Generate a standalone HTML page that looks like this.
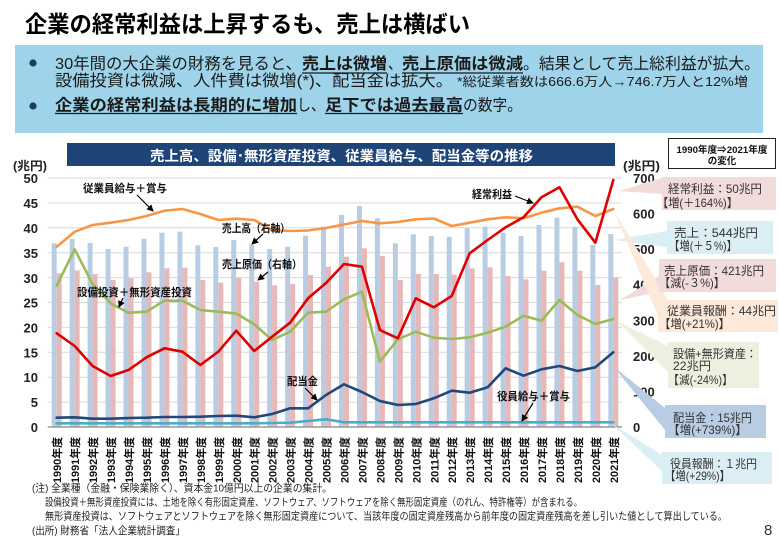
<!DOCTYPE html>
<html><head><meta charset="utf-8">
<style>
html,body{margin:0;padding:0;background:#fff;}
svg{display:block;}
text{font-family:"Liberation Sans","Noto Sans CJK JP",sans-serif;}
</style></head><body>
<svg width="780" height="540" viewBox="0 0 780 540" xmlns="http://www.w3.org/2000/svg">
<defs>
<marker id="ah" markerWidth="7" markerHeight="7" refX="6" refY="3.5" orient="auto" markerUnits="userSpaceOnUse">
<path d="M0,0 L7,3.5 L0,7 z" fill="#000"/>
</marker>
</defs>
<rect width="780" height="540" fill="#fff"/>

<!-- Title -->
<text x="25" y="32" font-size="23" font-weight="bold" fill="#000" textLength="445" lengthAdjust="spacingAndGlyphs">企業の経常利益は上昇するも、売上は横ばい</text>

<!-- Summary box -->
<rect x="15" y="45" width="748" height="88" fill="#9ed3ea"/>
<circle cx="33" cy="63" r="3.6" fill="#1f3864"/>
<circle cx="33" cy="106" r="3.6" fill="#1f3864"/>
<g font-size="16" fill="#1a1a1a">
<text x="55" y="69" textLength="247" lengthAdjust="spacingAndGlyphs">30年間の大企業の財務を見ると、</text>
<text x="302" y="69" font-weight="bold" textLength="85" lengthAdjust="spacingAndGlyphs">売上は微増</text>
<text x="388" y="69" textLength="14" lengthAdjust="spacingAndGlyphs">、</text>
<text x="402" y="69" font-weight="bold" textLength="121" lengthAdjust="spacingAndGlyphs">売上原価は微減</text>
<text x="523" y="69" textLength="237" lengthAdjust="spacingAndGlyphs">。結果として売上総利益が拡大。</text>
<text x="55" y="86" textLength="398" lengthAdjust="spacingAndGlyphs">設備投資は微減、人件費は微増(*)、配当金は拡大。</text>
<text x="457" y="86" font-size="12.5" textLength="291" lengthAdjust="spacingAndGlyphs">*総従業者数は666.6万人→746.7万人と12%増</text>
<text x="55" y="110.5" font-weight="bold" textLength="242" lengthAdjust="spacingAndGlyphs">企業の経常利益は長期的に増加</text>
<text x="297" y="110.5" textLength="28" lengthAdjust="spacingAndGlyphs">し、</text>
<text x="325" y="110.5" font-weight="bold" textLength="138" lengthAdjust="spacingAndGlyphs">足下では過去最高</text>
<text x="463" y="110.5" textLength="59" lengthAdjust="spacingAndGlyphs">の数字。</text>
</g>
<g stroke="#1a1a1a" stroke-width="1.3">
<line x1="302" y1="73" x2="387" y2="73"/>
<line x1="402" y1="73" x2="523" y2="73"/>
<line x1="55" y1="113.5" x2="297" y2="113.5"/>
<line x1="325" y1="113.5" x2="463" y2="113.5"/>
</g>

<!-- Chart title bar -->
<rect x="67" y="143" width="548" height="23" fill="#1f4478"/>
<text x="150" y="161" font-size="14" font-weight="bold" fill="#fff" textLength="383" lengthAdjust="spacingAndGlyphs">売上高、設備･無形資産投資、従業員給与、配当金等の推移</text>

<!-- Units -->
<text x="13" y="170" font-size="12" font-weight="bold" fill="#222" textLength="34" lengthAdjust="spacingAndGlyphs">(兆円)</text>
<text x="623" y="170" font-size="12" font-weight="bold" fill="#222" textLength="37" lengthAdjust="spacingAndGlyphs">(兆円)</text>

<!-- Gridlines -->
<g stroke="#d9d9d9" stroke-width="1">
<line x1="47.7" y1="178" x2="622" y2="178"/>
<line x1="47.7" y1="202.9" x2="622" y2="202.9"/>
<line x1="47.7" y1="227.8" x2="622" y2="227.8"/>
<line x1="47.7" y1="252.7" x2="622" y2="252.7"/>
<line x1="47.7" y1="277.6" x2="622" y2="277.6"/>
<line x1="47.7" y1="302.5" x2="622" y2="302.5"/>
<line x1="47.7" y1="327.4" x2="622" y2="327.4"/>
<line x1="47.7" y1="352.3" x2="622" y2="352.3"/>
<line x1="47.7" y1="377.2" x2="622" y2="377.2"/>
<line x1="47.7" y1="402.1" x2="622" y2="402.1"/>
</g>

<!-- Left ticks -->
<g font-size="13" font-weight="bold" fill="#222" text-anchor="end">
<text x="38" y="183">50</text>
<text x="38" y="208">45</text>
<text x="38" y="233">40</text>
<text x="38" y="258">35</text>
<text x="38" y="283">30</text>
<text x="38" y="307.5">25</text>
<text x="38" y="332.5">20</text>
<text x="38" y="357.5">15</text>
<text x="38" y="382">10</text>
<text x="38" y="407">5</text>
<text x="38" y="432">0</text>
</g>
<!-- Right ticks -->
<g font-size="13" font-weight="bold" fill="#222">
<text x="633" y="183">700</text>
<text x="633" y="218.6">600</text>
<text x="633" y="254.1">500</text>
<text x="633" y="289.7">400</text>
<text x="633" y="325.3">300</text>
<text x="633" y="360.9">200</text>
<text x="633" y="396.4">100</text>
<text x="633" y="432">0</text>
</g>

<!-- Bars: sales (blue) -->
<g fill="#b8cce4">
<rect x="51.7" y="243.3" width="5" height="183.7"/>
<rect x="69.66" y="239" width="5" height="188"/>
<rect x="87.61" y="243" width="5" height="184"/>
<rect x="105.57" y="249" width="5" height="178"/>
<rect x="123.52" y="246.7" width="5" height="180.3"/>
<rect x="141.48" y="238.7" width="5" height="188.3"/>
<rect x="159.43" y="232.7" width="5" height="194.3"/>
<rect x="177.39" y="231.7" width="5" height="195.3"/>
<rect x="195.34" y="245.3" width="5" height="181.7"/>
<rect x="213.3" y="247" width="5" height="180"/>
<rect x="231.25" y="240" width="5" height="187"/>
<rect x="249.21" y="244.7" width="5" height="182.3"/>
<rect x="267.16" y="249" width="5" height="178"/>
<rect x="285.12" y="246.7" width="5" height="180.3"/>
<rect x="303.07" y="235.7" width="5" height="191.3"/>
<rect x="321.03" y="226.7" width="5" height="200.3"/>
<rect x="338.98" y="215" width="5" height="212"/>
<rect x="356.94" y="206" width="5" height="221"/>
<rect x="374.89" y="218.3" width="5" height="208.7"/>
<rect x="392.85" y="243.3" width="5" height="183.7"/>
<rect x="410.8" y="234.3" width="5" height="192.7"/>
<rect x="428.76" y="236" width="5" height="191"/>
<rect x="446.71" y="236.7" width="5" height="190.3"/>
<rect x="464.67" y="228.3" width="5" height="198.7"/>
<rect x="482.62" y="226.7" width="5" height="200.3"/>
<rect x="500.58" y="232.7" width="5" height="194.3"/>
<rect x="518.53" y="236" width="5" height="191"/>
<rect x="536.49" y="225" width="5" height="202"/>
<rect x="554.44" y="217.7" width="5" height="209.3"/>
<rect x="572.4" y="226.7" width="5" height="200.3"/>
<rect x="590.35" y="245" width="5" height="182"/>
<rect x="608.31" y="234" width="5" height="193"/>
</g>
<!-- Bars: cost of sales (pink) -->
<g fill="#e6b8b7">
<rect x="56.7" y="273.3" width="5" height="153.7"/>
<rect x="74.66" y="270.3" width="5" height="156.7"/>
<rect x="92.61" y="274" width="5" height="153"/>
<rect x="110.57" y="280" width="5" height="147"/>
<rect x="128.52" y="278.3" width="5" height="148.7"/>
<rect x="146.48" y="272.3" width="5" height="154.7"/>
<rect x="164.43" y="268.3" width="5" height="158.7"/>
<rect x="182.39" y="267.7" width="5" height="159.3"/>
<rect x="200.34" y="280" width="5" height="147"/>
<rect x="218.3" y="282.7" width="5" height="144.3"/>
<rect x="236.25" y="277.7" width="5" height="149.3"/>
<rect x="254.21" y="281.7" width="5" height="145.3"/>
<rect x="272.16" y="285.3" width="5" height="141.7"/>
<rect x="290.12" y="284" width="5" height="143"/>
<rect x="308.07" y="275" width="5" height="152"/>
<rect x="326.03" y="266.7" width="5" height="160.3"/>
<rect x="343.98" y="256.7" width="5" height="170.3"/>
<rect x="361.94" y="248.3" width="5" height="178.7"/>
<rect x="379.89" y="256" width="5" height="171"/>
<rect x="397.85" y="280" width="5" height="147"/>
<rect x="415.8" y="274" width="5" height="153"/>
<rect x="433.76" y="274" width="5" height="153"/>
<rect x="451.71" y="274.7" width="5" height="152.3"/>
<rect x="469.67" y="268.3" width="5" height="158.7"/>
<rect x="487.62" y="267.3" width="5" height="159.7"/>
<rect x="505.58" y="276" width="5" height="151"/>
<rect x="523.53" y="279.3" width="5" height="147.7"/>
<rect x="541.49" y="270.7" width="5" height="156.3"/>
<rect x="559.44" y="262.3" width="5" height="164.7"/>
<rect x="577.4" y="270.7" width="5" height="156.3"/>
<rect x="595.35" y="285" width="5" height="142"/>
<rect x="613.31" y="277.7" width="5" height="149.3"/>
</g>

<!-- x axis -->
<line x1="47.7" y1="427" x2="622" y2="427" stroke="#999" stroke-width="1.5"/>

<!-- Lines -->
<g fill="none" stroke-width="2.6" stroke-linejoin="round" stroke-linecap="round">
<polyline stroke="#9bbb59" points="56.7,285.7 74.66,249.3 92.61,284 110.57,303.3 128.52,312.7 146.48,311.7 164.43,300.7 182.39,300.7 200.34,310 218.3,311.7 236.25,313.5 254.21,324.3 272.16,340 290.12,331.7 308.07,312.7 326.03,311.7 343.98,299.3 361.94,291.7 379.89,361.7 397.85,339.3 415.8,331.7 433.76,337.7 451.71,339 469.67,337.3 487.62,332.7 505.58,326.7 523.53,315.7 541.49,320.7 559.44,300 577.4,315 595.35,324 613.31,319"/>
<polyline stroke="#f79646" points="56.7,246.7 74.66,231.7 92.61,225 110.57,222.7 128.52,220 146.48,216 164.43,210.7 182.39,209 200.34,214 218.3,220 236.25,218.7 254.21,220 272.16,230 290.12,231 308.07,230.5 326.03,228 343.98,224.5 361.94,221 379.89,223.3 397.85,222 415.8,219.3 433.76,218.5 451.71,226 469.67,222.7 487.62,219.3 505.58,217.3 523.53,218.3 541.49,212.7 559.44,208.3 577.4,206.7 595.35,216 613.31,209"/>
<polyline stroke="#4bacc6" points="56.7,423.3 74.66,423.3 92.61,423.3 110.57,423.3 128.52,423.3 146.48,423.3 164.43,423.3 182.39,423.3 200.34,423.3 218.3,423.3 236.25,423.3 254.21,423.3 272.16,423 290.12,422.7 308.07,421 326.03,419.3 343.98,422.3 361.94,422.3 379.89,422.3 397.85,422.3 415.8,422.3 433.76,422.3 451.71,422.3 469.67,422.3 487.62,422.3 505.58,422.3 523.53,422.3 541.49,422.3 559.44,422.3 577.4,422.3 595.35,422.3 613.31,422.3"/>
<polyline stroke="#1f497d" points="56.7,417.7 74.66,417.3 92.61,418.7 110.57,418.7 128.52,418 146.48,417.7 164.43,417 182.39,417 200.34,416.7 218.3,416 236.25,415.7 254.21,417.3 272.16,414 290.12,408.3 308.07,408.3 326.03,395 343.98,384.3 361.94,392 379.89,401 397.85,405 415.8,404 433.76,398.3 451.71,390.7 469.67,392.7 487.62,387.3 505.58,368.3 523.53,375.7 541.49,369.3 559.44,366 577.4,371 595.35,367.3 613.31,352.3"/>
<polyline stroke="#e00000" points="56.7,333.3 74.66,346 92.61,366 110.57,376 128.52,370 146.48,357.3 164.43,348.3 182.39,351.7 200.34,365 218.3,351.7 236.25,330.7 254.21,351 272.16,336.7 290.12,322.7 308.07,298.3 326.03,283 343.98,264 361.94,266.7 379.89,330 397.85,338.3 415.8,298.3 433.76,307.3 451.71,296 469.67,253.3 487.62,240 505.58,227.3 523.53,217.3 541.49,197.3 559.44,187.3 577.4,219.3 595.35,242.7 613.31,180"/>
</g>

<!-- Series annotations -->
<g font-size="11" font-weight="bold" fill="#111">
<text x="83" y="192" textLength="84" lengthAdjust="spacingAndGlyphs">従業員給与＋賞与</text>
<text x="222" y="232" textLength="68" lengthAdjust="spacingAndGlyphs">売上高（右軸）</text>
<text x="222" y="268" textLength="80" lengthAdjust="spacingAndGlyphs">売上原価（右軸）</text>
<text x="77" y="296" textLength="115" lengthAdjust="spacingAndGlyphs">設備投資＋無形資産投資</text>
<text x="287" y="385" textLength="31" lengthAdjust="spacingAndGlyphs">配当金</text>
<text x="472" y="198" textLength="40" lengthAdjust="spacingAndGlyphs">経常利益</text>
<text x="497" y="400" textLength="73" lengthAdjust="spacingAndGlyphs">役員給与＋賞与</text>
</g>
<g stroke="#000" stroke-width="1.2" marker-end="url(#ah)">
<line x1="137" y1="195" x2="153" y2="211"/>
<line x1="263" y1="234" x2="252" y2="244"/>
<line x1="268" y1="272" x2="258" y2="280"/>
<line x1="123" y1="298" x2="119" y2="307"/>
<line x1="305" y1="388" x2="317" y2="400"/>
<line x1="515" y1="196" x2="533" y2="203"/>
<line x1="533" y1="403" x2="522" y2="421"/>
</g>

<!-- Year labels -->
<g font-size="11" font-weight="bold" fill="#111" text-anchor="end">
<text transform="translate(61.2,437) rotate(-90)" textLength="46" lengthAdjust="spacingAndGlyphs">1990年度</text>
<text transform="translate(79.16,437) rotate(-90)" textLength="46" lengthAdjust="spacingAndGlyphs">1991年度</text>
<text transform="translate(97.11,437) rotate(-90)" textLength="46" lengthAdjust="spacingAndGlyphs">1992年度</text>
<text transform="translate(115.07,437) rotate(-90)" textLength="46" lengthAdjust="spacingAndGlyphs">1993年度</text>
<text transform="translate(133.02,437) rotate(-90)" textLength="46" lengthAdjust="spacingAndGlyphs">1994年度</text>
<text transform="translate(150.98,437) rotate(-90)" textLength="46" lengthAdjust="spacingAndGlyphs">1995年度</text>
<text transform="translate(168.93,437) rotate(-90)" textLength="46" lengthAdjust="spacingAndGlyphs">1996年度</text>
<text transform="translate(186.89,437) rotate(-90)" textLength="46" lengthAdjust="spacingAndGlyphs">1997年度</text>
<text transform="translate(204.84,437) rotate(-90)" textLength="46" lengthAdjust="spacingAndGlyphs">1998年度</text>
<text transform="translate(222.8,437) rotate(-90)" textLength="46" lengthAdjust="spacingAndGlyphs">1999年度</text>
<text transform="translate(240.75,437) rotate(-90)" textLength="46" lengthAdjust="spacingAndGlyphs">2000年度</text>
<text transform="translate(258.71,437) rotate(-90)" textLength="46" lengthAdjust="spacingAndGlyphs">2001年度</text>
<text transform="translate(276.66,437) rotate(-90)" textLength="46" lengthAdjust="spacingAndGlyphs">2002年度</text>
<text transform="translate(294.62,437) rotate(-90)" textLength="46" lengthAdjust="spacingAndGlyphs">2003年度</text>
<text transform="translate(312.57,437) rotate(-90)" textLength="46" lengthAdjust="spacingAndGlyphs">2004年度</text>
<text transform="translate(330.53,437) rotate(-90)" textLength="46" lengthAdjust="spacingAndGlyphs">2005年度</text>
<text transform="translate(348.48,437) rotate(-90)" textLength="46" lengthAdjust="spacingAndGlyphs">2006年度</text>
<text transform="translate(366.44,437) rotate(-90)" textLength="46" lengthAdjust="spacingAndGlyphs">2007年度</text>
<text transform="translate(384.39,437) rotate(-90)" textLength="46" lengthAdjust="spacingAndGlyphs">2008年度</text>
<text transform="translate(402.35,437) rotate(-90)" textLength="46" lengthAdjust="spacingAndGlyphs">2009年度</text>
<text transform="translate(420.3,437) rotate(-90)" textLength="46" lengthAdjust="spacingAndGlyphs">2010年度</text>
<text transform="translate(438.26,437) rotate(-90)" textLength="46" lengthAdjust="spacingAndGlyphs">2011年度</text>
<text transform="translate(456.21,437) rotate(-90)" textLength="46" lengthAdjust="spacingAndGlyphs">2012年度</text>
<text transform="translate(474.17,437) rotate(-90)" textLength="46" lengthAdjust="spacingAndGlyphs">2013年度</text>
<text transform="translate(492.12,437) rotate(-90)" textLength="46" lengthAdjust="spacingAndGlyphs">2014年度</text>
<text transform="translate(510.08,437) rotate(-90)" textLength="46" lengthAdjust="spacingAndGlyphs">2015年度</text>
<text transform="translate(528.03,437) rotate(-90)" textLength="46" lengthAdjust="spacingAndGlyphs">2016年度</text>
<text transform="translate(545.99,437) rotate(-90)" textLength="46" lengthAdjust="spacingAndGlyphs">2017年度</text>
<text transform="translate(563.94,437) rotate(-90)" textLength="46" lengthAdjust="spacingAndGlyphs">2018年度</text>
<text transform="translate(581.9,437) rotate(-90)" textLength="46" lengthAdjust="spacingAndGlyphs">2019年度</text>
<text transform="translate(599.85,437) rotate(-90)" textLength="46" lengthAdjust="spacingAndGlyphs">2020年度</text>
<text transform="translate(617.81,437) rotate(-90)" textLength="46" lengthAdjust="spacingAndGlyphs">2021年度</text>
</g>

<!-- Callout header box -->
<rect x="668.5" y="138.5" width="107" height="30" fill="#fff" stroke="#222" stroke-width="1"/>
<g font-size="9.5" font-weight="bold" fill="#111" text-anchor="middle">
<text x="722" y="153" textLength="91" lengthAdjust="spacingAndGlyphs">1990年度⇒2021年度</text>
<text x="722" y="164">の変化</text>
</g>

<!-- Callouts: wedges -->
<polygon points="619,191 662,178 662,194" fill="#f2dcdb"/>
<polygon points="614,240 667,231 667,247" fill="#daeef3"/>
<polygon points="620,300 659,276 659,292" fill="#f2dcdb"/>
<polygon points="614,211 668,300 658,316" fill="#fde9d9"/>
<polygon points="617,321 668,346 668,372" fill="#ebf1de"/>
<polygon points="613,366 665,408 665,430" fill="#b8cce4"/>
<polygon points="612,424 662,455 662,471" fill="#daeef3"/>

<!-- Callouts: boxes -->
<rect x="662" y="177" width="114" height="33" fill="#f2dcdb"/>
<rect x="667" y="221" width="106" height="33" fill="#daeef3"/>
<rect x="659" y="259" width="117" height="33" fill="#f2dcdb"/>
<rect x="658" y="300" width="120" height="32" fill="#fde9d9"/>
<rect x="668" y="342" width="91" height="46" fill="#ebf1de"/>
<rect x="665" y="405" width="101" height="33" fill="#b8cce4"/>
<rect x="662" y="452" width="110" height="32" fill="#daeef3"/>

<g font-size="12" fill="#333">
<text x="668" y="193" textLength="94" lengthAdjust="spacingAndGlyphs">経常利益：50兆円</text>
<text x="657" y="207" textLength="81" lengthAdjust="spacingAndGlyphs">【増(＋164%)】</text>
<text x="674" y="237" textLength="84" lengthAdjust="spacingAndGlyphs">売上：544兆円</text>
<text x="669" y="250" textLength="68" lengthAdjust="spacingAndGlyphs">【増(＋５%)】</text>
<text x="664" y="275" textLength="100" lengthAdjust="spacingAndGlyphs">売上原価：421兆円</text>
<text x="659" y="287" textLength="66" lengthAdjust="spacingAndGlyphs">【減(-３%)】</text>
<text x="667" y="315" textLength="109" lengthAdjust="spacingAndGlyphs">従業員報酬：44兆円</text>
<text x="659" y="328" textLength="71" lengthAdjust="spacingAndGlyphs">【増(+21%)】</text>
<text x="673" y="358" textLength="84" lengthAdjust="spacingAndGlyphs">設備+無形資産：</text>
<text x="673" y="370" textLength="38" lengthAdjust="spacingAndGlyphs">22兆円</text>
<text x="668" y="384" textLength="65" lengthAdjust="spacingAndGlyphs">【減(-24%)】</text>
<text x="673" y="422" textLength="79" lengthAdjust="spacingAndGlyphs">配当金：15兆円</text>
<text x="668" y="434" textLength="79" lengthAdjust="spacingAndGlyphs">【増(+739%)】</text>
<text x="670" y="468" textLength="87" lengthAdjust="spacingAndGlyphs">役員報酬：１兆円</text>
<text x="665" y="480" textLength="65" lengthAdjust="spacingAndGlyphs">【増(+29%)】</text>
</g>

<!-- Notes -->
<g font-size="10.5" fill="#222">
<text x="32" y="491.5" textLength="300" lengthAdjust="spacingAndGlyphs">(注) 全業種（金融・保険業除く）、資本金10億円以上の企業の集計。</text>
<text x="45" y="505.5" textLength="537" lengthAdjust="spacingAndGlyphs">設備投資＋無形資産投資には、土地を除く有形固定資産、ソフトウェア、ソフトウェアを除く無形固定資産（のれん、特許権等）が含まれる。</text>
<text x="45" y="519.5" textLength="682" lengthAdjust="spacingAndGlyphs">無形資産投資は、ソフトウェアとソフトウェアを除く無形固定資産について、当該年度の固定資産残高から前年度の固定資産残高を差し引いた値として算出している。</text>
<text x="32" y="534" textLength="153" lengthAdjust="spacingAndGlyphs">(出所) 財務省「法人企業統計調査」</text>
</g>
<text x="764" y="535" font-size="15" fill="#333">8</text>
</svg>
</body></html>
